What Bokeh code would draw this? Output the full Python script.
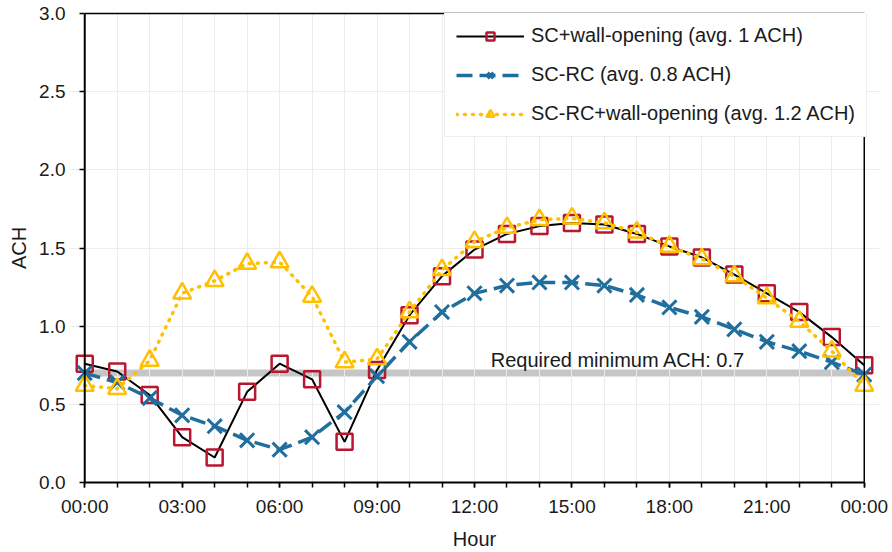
from bokeh.plotting import figure
from bokeh.models import (Range1d, FixedTicker, Label, Legend, LegendItem, LinearAxis, Span)
from bokeh.embed import file_html
from bokeh.resources import INLINE

# Hourly air changes per hour over one day (00:00 .. next 00:00)
hours = list(range(25))
sc_wall = [0.76, 0.71, 0.56, 0.29, 0.16, 0.58, 0.76, 0.66, 0.26, 0.72,
           1.07, 1.32, 1.49, 1.59, 1.64, 1.66, 1.65, 1.59, 1.51, 1.44,
           1.33, 1.21, 1.09, 0.93, 0.75]
sc_rc = [0.70, 0.64, 0.54, 0.43, 0.36, 0.27, 0.21, 0.29, 0.45, 0.68,
         0.90, 1.09, 1.21, 1.26, 1.28, 1.28, 1.26, 1.20, 1.12, 1.06,
         0.98, 0.90, 0.84, 0.77, 0.69]
sc_rc_wall = [0.62, 0.60, 0.78, 1.21, 1.29, 1.40, 1.41, 1.19, 0.77, 0.79,
              1.09, 1.36, 1.54, 1.63, 1.68, 1.69, 1.66, 1.60, 1.51, 1.43,
              1.32, 1.18, 1.03, 0.84, 0.62]
required_min = 0.7

series_names = ["SC+wall-opening (avg. 1 ACH)",
                "SC-RC (avg. 0.8 ACH)",
                "SC-RC+wall-opening (avg. 1.2 ACH)"]
x_major = [0, 3, 6, 9, 12, 15, 18, 21, 24]
x_labels = ["00:00", "03:00", "06:00", "09:00", "12:00", "15:00",
            "18:00", "21:00", "00:00"]
y_ticks = [0, 0.5, 1.0, 1.5, 2.0, 2.5, 3.0]

FONT = "Liberation Sans"
FS_TICK = "19px"
FS = "20px"
X0, X1 = hours[0], hours[-1]
Y0, Y1 = y_ticks[0], y_ticks[-1]
PAD = 0.5  # half an hour of room on each side so the end markers are not cut

p = figure(width=892, height=552, output_backend="svg", toolbar_location=None,
           x_range=Range1d(X0 - PAD, X1 + PAD), y_range=Range1d(Y0, Y1),
           min_border_left=68, min_border_right=12,
           min_border_top=13, min_border_bottom=69)
p.background_fill_color = "white"
p.border_fill_color = "white"
p.outline_line_color = None

# x axis, limited to the 24 hours
p.xaxis.ticker = FixedTicker(ticks=x_major, minor_ticks=hours)
p.xaxis.major_label_overrides = {t: l for t, l in zip(x_major, x_labels)}
p.xaxis.bounds = (X0, X1)
# y axis sits on the padded frame edge; its ticks are shifted to reach the 00:00 line
p.yaxis.ticker = FixedTicker(ticks=y_ticks)
p.yaxis.major_label_overrides = {t: f"{t:.1f}" for t in y_ticks}
for ax in (p.xaxis[0], p.yaxis[0]):
    ax.axis_line_color = "black"
    ax.axis_line_width = 2
    ax.major_tick_line_color = "black"
    ax.major_tick_line_width = 1.5
    ax.major_tick_in = 0
    ax.major_tick_out = 5
    ax.minor_tick_line_color = "black"
    ax.minor_tick_line_width = 1.5
    ax.minor_tick_in = 0
    ax.minor_tick_out = 5
    ax.major_label_text_font = FONT
    ax.major_label_text_font_size = FS_TICK
    ax.major_label_text_color = "#1a1a1a"
    ax.axis_label_text_font = FONT
    ax.axis_label_text_font_size = FS
    ax.axis_label_text_font_style = "normal"
    ax.axis_label_text_color = "#1a1a1a"
p.yaxis.axis_line_color = None
p.yaxis.minor_tick_line_color = None
p.yaxis.major_tick_in = 16
p.yaxis.major_tick_out = -11
p.xaxis.axis_label = "Hour"
p.yaxis.axis_label = "ACH"
p.xaxis.major_label_standoff = 8
p.yaxis.major_label_standoff = 3
p.xaxis.axis_label_standoff = 8
p.yaxis.axis_label_standoff = 6

# box lines at 00:00 (left), 24:00 (right) and the top of the value range
p.add_layout(Span(location=X0, dimension="height", line_color="black", line_width=2))
p.add_layout(Span(location=X1, dimension="height", line_color="black", line_width=1.5))
top = LinearAxis(axis_line_color="black", axis_line_width=1.5, bounds=(X0, X1),
                 major_tick_line_color=None, minor_tick_line_color=None,
                 major_label_text_color=None, major_label_text_font_size="0px",
                 major_label_standoff=0, ticker=FixedTicker(ticks=[]))
p.add_layout(top, "above")

# grid
p.xgrid.ticker = FixedTicker(ticks=x_major, minor_ticks=hours)
p.xgrid.grid_line_color = "#ececec"
p.xgrid.minor_grid_line_color = "#ececec"
p.ygrid.ticker = FixedTicker(ticks=y_ticks)
p.ygrid.grid_line_color = "#ececec"
p.ygrid.bounds = (X0, X1)

# required minimum line
p.segment(x0=[X0], y0=[required_min], x1=[X1], y1=[required_min],
          line_color="#c6c6c6", line_width=7, level="underlay")
p.add_layout(Label(x=12.5, y=required_min + 0.012, text=f"Required minimum ACH: {required_min}",
                   text_font=FONT, text_font_size=FS, text_color="#1a1a1a",
                   text_baseline="bottom"))

BLACK, RED, BLUE, GOLD = "#000000", "#b8172f", "#1f6e9e", "#ffc000"

l1 = p.line(hours, sc_wall, line_color=BLACK, line_width=2)
m1 = p.scatter(hours, sc_wall, marker="square", size=16, line_color=RED,
               line_width=2.5, fill_alpha=0)

l2 = p.line(hours, sc_rc, line_color=BLUE, line_width=3.5, line_dash="16 7")
m2 = p.scatter(hours, sc_rc, marker="x", size=20, line_color=BLUE, line_width=3)

l3 = p.line(hours, sc_rc_wall, line_color=GOLD, line_width=3.5, line_dash="1 7",
            line_cap="round")
m3 = p.scatter(hours, sc_rc_wall, marker="triangle", size=18, line_color=GOLD,
               line_width=2.5, fill_alpha=0)

legend = Legend(items=[
    LegendItem(label=series_names[0], renderers=[l1, m1]),
    LegendItem(label=series_names[1], renderers=[l2, m2]),
    LegendItem(label=series_names[2], renderers=[l3, m3]),
], location=(376, 345))
legend.margin = 0
legend.padding = 11
legend.spacing = 16
legend.glyph_width = 68
legend.glyph_height = 20
legend.label_height = 20
legend.label_standoff = 7
legend.label_text_font = FONT
legend.label_text_font_size = FS
legend.label_text_color = "#1a1a1a"
legend.border_line_color = "#dedede"
legend.border_line_width = 1
legend.background_fill_color = "white"
legend.background_fill_alpha = 1
p.add_layout(legend)

open("out.html", "w").write(file_html(p, INLINE))
